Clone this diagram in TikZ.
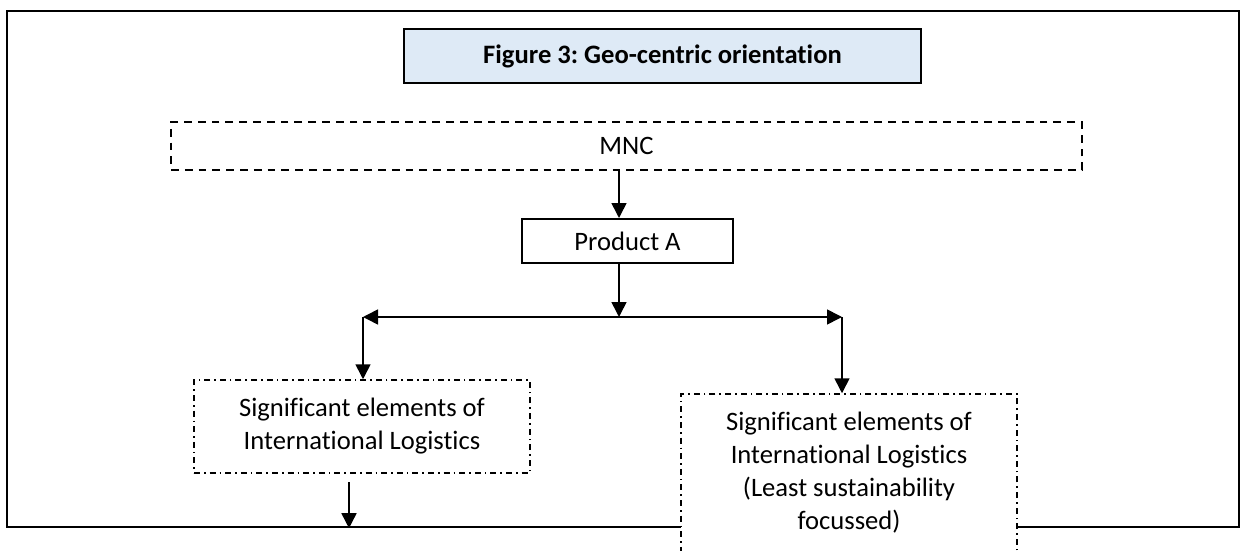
\documentclass[tikz,border=0pt]{standalone}
\usepackage{fontspec}
\setmainfont{Carlito}[Ligatures=NoCommon]
\usetikzlibrary{arrows.meta}
\definecolor{titleblue}{HTML}{DEEAF6}
\frenchspacing
\begin{document}
\begin{tikzpicture}[x=0.5pt,y=-0.5pt,
  txt/.style={font=\fontsize{13.3}{16.5}\selectfont, inner sep=0pt, align=center},
  framebox/.style={draw, line width=1.2pt, minimum width=616pt, minimum height=258pt, inner sep=0pt},
  titlebox/.style={txt, draw, fill=titleblue, line width=1pt, minimum width=258.5pt, minimum height=27pt, font=\fontsize{13.3}{16.5}\selectfont\bfseries},
  mncbox/.style={txt, draw, line width=0.8pt, dash pattern=on 3.9pt off 3pt, minimum width=455.5pt, minimum height=24pt},
  prodbox/.style={txt, draw, line width=1pt, minimum width=105.5pt, minimum height=22pt},
  logbox/.style={txt, draw, fill=white, line width=0.75pt, dash pattern=on 3pt off 2pt on 0.8pt off 2pt, minimum width=168pt},
  arr/.style={line width=0.8pt, -{Triangle[length=7.5pt,width=7.5pt]}},
  dblarr/.style={line width=0.8pt, {Triangle[length=7.5pt,width=7.5pt]}-{Triangle[length=7.5pt,width=7.5pt]}}
]
\useasboundingbox (0,0) rectangle (1242,551);
\clip (0,0) rectangle (1242,551);
\node[framebox] (frame) at (623,269) {};
\node[titlebox] (title) at (662.5,56) {Figure 3: Geo-centric orientation};
\node[mncbox] (mnc) at (626.5,146) {MNC};
\node[prodbox] (pa) at (627.5,241) {Product A};
\node[logbox, minimum height=46.5pt] (lb) at (362,426.5) {Significant elements of\\International Logistics};
\node[logbox, minimum height=79pt] (rb) at (849,473) {Significant elements of\\International Logistics\\(Least sustainability\\focussed)};
\coordinate (ax) at (619,0);
\coordinate (hl) at (363,317);
\coordinate (hr) at (842,317);
\coordinate (ba) at (349,482);
\draw[arr] (mnc.south -| ax) -- (pa.north -| ax);
\draw[arr] (pa.south -| ax) -- (hl -| ax);
\draw[dblarr] (hl) -- (hr);
\draw[arr] (hl) -- (lb.north -| hl);
\draw[arr] (hr) -- (rb.north -| hr);
\draw[arr] (ba) -- (frame.south -| ba);
\end{tikzpicture}
\end{document}
